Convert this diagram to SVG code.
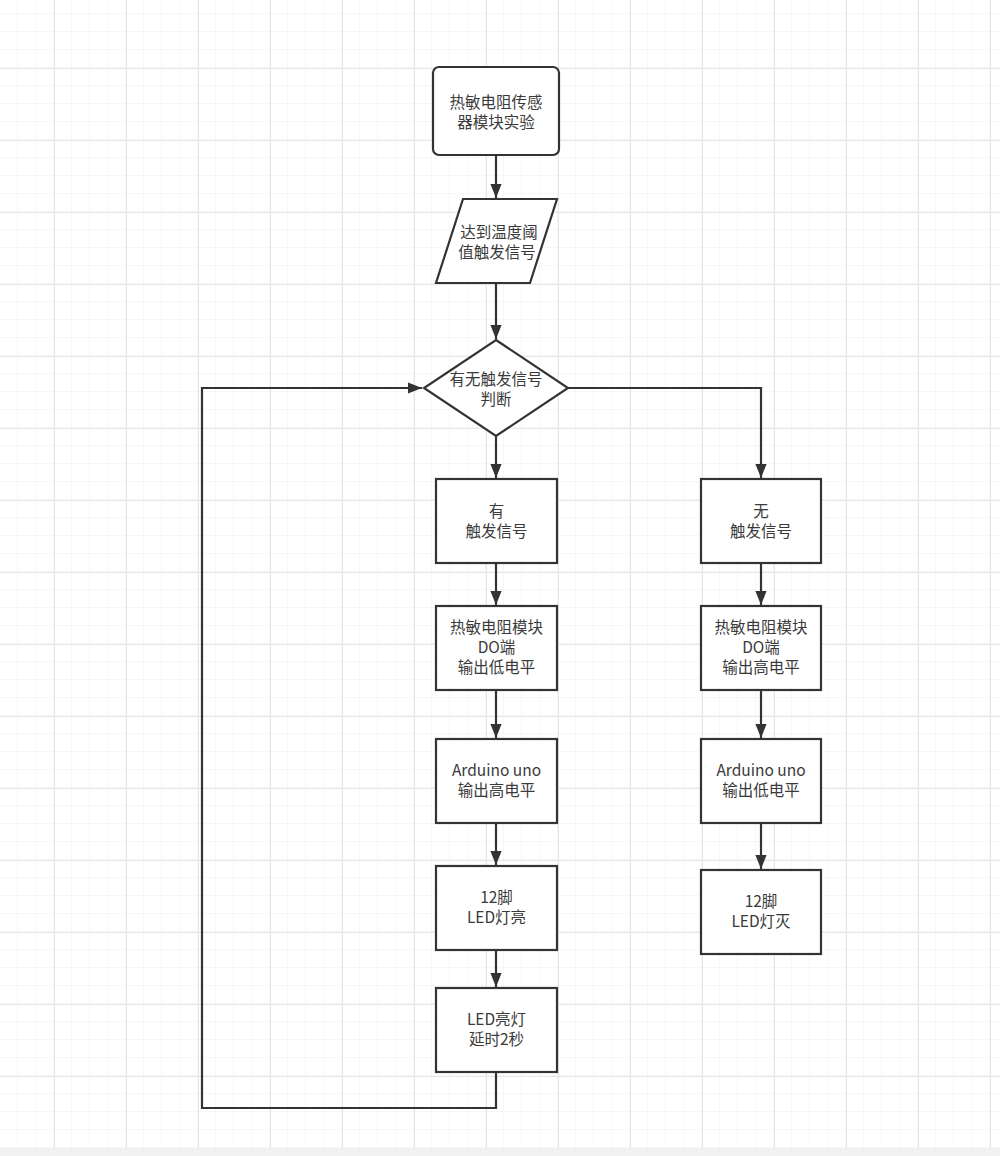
<svg xmlns="http://www.w3.org/2000/svg" width="1000" height="1156" viewBox="0 0 1000 1156">
<defs>
<pattern id="minor" width="18" height="18" patternUnits="userSpaceOnUse" x="0" y="14">
<path d="M18 0V18M0 18H18" fill="none" stroke="#eeeeee" stroke-width="1"/>
</pattern>
<pattern id="major" width="72" height="72" patternUnits="userSpaceOnUse" x="54" y="68">
<path d="M0.5 0V72M0 0.5H72" fill="none" stroke="#e6e6e6" stroke-width="1"/>
</pattern>
<marker id="arr" markerUnits="userSpaceOnUse" markerWidth="14" markerHeight="16" refX="15" refY="6" orient="auto" viewBox="0 0 15 12">
<path d="M0 0L15 6L0 12Z" fill="#333"/>
</marker>
<style>
.n{fill:#fff;stroke:#333;stroke-width:2.2}
.t{font-family:"Noto Sans CJK SC","Noto Sans",sans-serif;font-size:15.5px;fill:#3a3a3a;text-anchor:middle}
.c{fill:none;stroke:#333;stroke-width:2.2}
</style>
</defs>
<rect width="1000" height="1156" fill="#fff"/>
<rect width="1000" height="1148" fill="url(#minor)"/>
<rect width="1000" height="1148" fill="url(#major)"/>
<rect y="1148" width="1000" height="8" fill="#f1f1f1"/>
<g id="connectors">
<path class="c" d="M496 155V198" marker-end="url(#arr)"/>
<path class="c" d="M496 283V339" marker-end="url(#arr)"/>
<path class="c" d="M496 436V478" marker-end="url(#arr)"/>
<path class="c" d="M568 388H761V478" marker-end="url(#arr)"/>
<path class="c" d="M496 563V605" marker-end="url(#arr)"/>
<path class="c" d="M496 690V738" marker-end="url(#arr)"/>
<path class="c" d="M496 823V865" marker-end="url(#arr)"/>
<path class="c" d="M496 950V987" marker-end="url(#arr)"/>
<path class="c" d="M761 563V605" marker-end="url(#arr)"/>
<path class="c" d="M761 690V738" marker-end="url(#arr)"/>
<path class="c" d="M761 823V869" marker-end="url(#arr)"/>
<path class="c" d="M496 1072V1108H202V388H422" marker-end="url(#arr)"/>
</g>
<g id="start">
<rect class="n" x="433" y="67" width="126" height="88" rx="6"/>
<text class="t" x="496" y="108">热敏电阻传感</text>
<text class="t" x="496" y="128">器模块实验</text>
</g>
<g id="input">
<path class="n" d="M463 199H557L530 283H436Z"/>
<text class="t" x="499" y="238">达到温度阈</text>
<text class="t" x="497" y="258">值触发信号</text>
</g>
<g id="decision">
<path class="n" d="M496 340L568 388L496 436L424 388Z"/>
<text class="t" x="496" y="385">有无触发信号</text>
<text class="t" x="496" y="405">判断</text>
</g>
<g id="yes1">
<rect class="n" x="436" y="479" width="121" height="84"/>
<text class="t" x="496.5" y="517">有</text>
<text class="t" x="496.5" y="537">触发信号</text>
</g>
<g id="yes2">
<rect class="n" x="436" y="606" width="121" height="84"/>
<text class="t" x="496.5" y="633">热敏电阻模块</text>
<text class="t" x="496.5" y="653">DO端</text>
<text class="t" x="496.5" y="673">输出低电平</text>
</g>
<g id="yes3">
<rect class="n" x="436" y="739" width="121" height="84"/>
<text class="t" x="496.5" y="776">Arduino uno</text>
<text class="t" x="496.5" y="796">输出高电平</text>
</g>
<g id="yes4">
<rect class="n" x="436" y="866" width="121" height="84"/>
<text class="t" x="496.5" y="903">12脚</text>
<text class="t" x="496.5" y="923">LED灯亮</text>
</g>
<g id="yes5">
<rect class="n" x="436" y="988" width="121" height="84"/>
<text class="t" x="496.5" y="1025">LED亮灯</text>
<text class="t" x="496.5" y="1045">延时2秒</text>
</g>
<g id="no1">
<rect class="n" x="701" y="479" width="120" height="84"/>
<text class="t" x="761" y="517">无</text>
<text class="t" x="761" y="537">触发信号</text>
</g>
<g id="no2">
<rect class="n" x="701" y="606" width="120" height="84"/>
<text class="t" x="761" y="633">热敏电阻模块</text>
<text class="t" x="761" y="653">DO端</text>
<text class="t" x="761" y="673">输出高电平</text>
</g>
<g id="no3">
<rect class="n" x="701" y="739" width="120" height="84"/>
<text class="t" x="761" y="776">Arduino uno</text>
<text class="t" x="761" y="796">输出低电平</text>
</g>
<g id="no4">
<rect class="n" x="701" y="870" width="120" height="84"/>
<text class="t" x="761" y="907">12脚</text>
<text class="t" x="761" y="927">LED灯灭</text>
</g>
</svg>
